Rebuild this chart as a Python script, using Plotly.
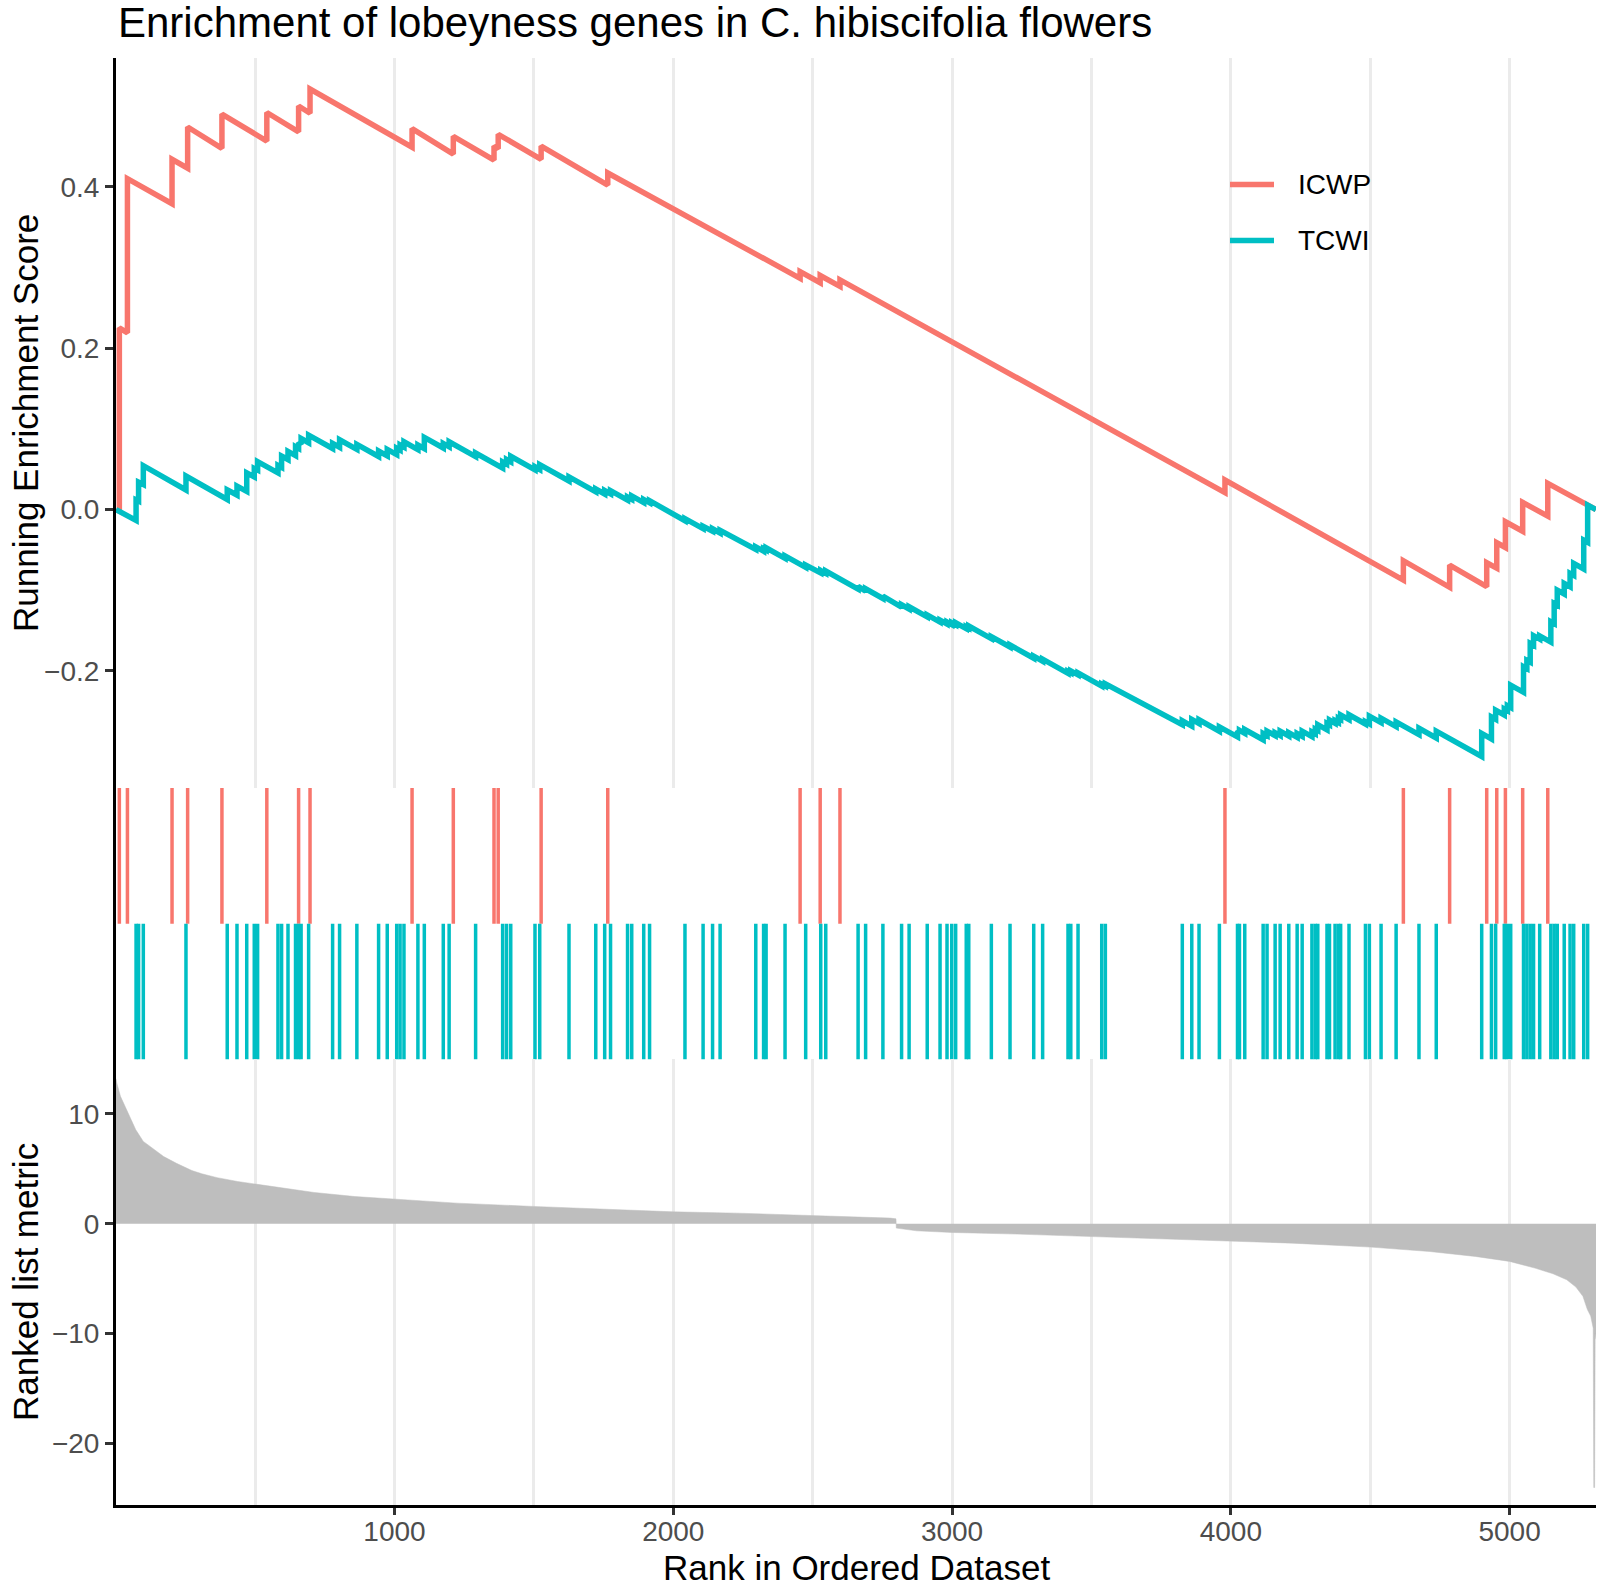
import plotly.graph_objects as go

# ---------------- data ----------------
N_GENES = 5310

red_name = "ICWP"
red_hits = [13, 42, 202, 258, 381, 542, 656, 697, 1063, 1211, 1357, 1372, 1526,
            1765, 2455, 2527, 2598, 3979, 4619, 4785, 4918, 4954, 4985, 5047, 5137]
red_es_before = [-0.002, 0.219, 0.379, 0.423, 0.4476, 0.4566, 0.468, 0.491, 0.449,
                 0.4405, 0.433, 0.447, 0.434, 0.402, 0.2865, 0.281, 0.2765, 0.021,
                 -0.0874, -0.0964, -0.0956, -0.0727, -0.047, -0.0269, -0.0082]
red_es_after = [0.225, 0.410, 0.434, 0.474, 0.490, 0.492, 0.500, 0.521, 0.472,
                0.4624, 0.4504, 0.465, 0.4504, 0.417, 0.2947, 0.290, 0.2845, 0.0366,
                -0.0634, -0.0688, -0.0659, -0.0411, -0.0151, 0.0089, 0.0324]
red_es_end = 0.0

cyan_name = "TCWI"
cyan_hits = [73, 82, 99, 252, 400, 435, 470, 497, 509, 582, 595, 618, 645, 656, 665,
             692, 778, 803, 865, 943, 974, 1008, 1020, 1034, 1084, 1107, 1175, 1196,
             1291, 1388, 1402, 1417, 1504, 1521, 1626, 1722, 1754, 1775, 1836, 1851,
             1894, 1915, 2042, 2107, 2141, 2168, 2296, 2324, 2333, 2401, 2475, 2529,
             2547, 2663, 2690, 2752, 2819, 2846, 2911, 2957, 2982, 2999, 3013, 3051,
             3060, 3141, 3208, 3293, 3325, 3416, 3426, 3452, 3537, 3550, 3826, 3860,
             3886, 3959, 4024, 4031, 4050, 4116, 4130, 4159, 4177, 4208, 4238, 4256,
             4291, 4303, 4312, 4345, 4354, 4374, 4386, 4394, 4424, 4483, 4497, 4539,
             4593, 4675, 4737, 4900, 4935, 4950, 4981, 4992, 5004, 5050, 5062, 5074,
             5086, 5108, 5148, 5160, 5171, 5196, 5217, 5230, 5266, 5280]
cyan_es_before = [-0.0135, 0.0105, 0.031, 0.0243, 0.0125, 0.018, 0.0225, 0.0405, 0.049,
                  0.0455, 0.0522, 0.062, 0.0668, 0.0757, 0.081, 0.0828, 0.0757, 0.0772,
                  0.0745, 0.0658, 0.0665, 0.068, 0.0737, 0.0773, 0.0743, 0.0755, 0.0763,
                  0.0778, 0.0657, 0.0513, 0.0563, 0.0591, 0.0492, 0.0497, 0.0354, 0.0220,
                  0.0193, 0.0194, 0.0117, 0.0126, 0.0087, 0.0084, -0.0138, -0.0237,
                  -0.0268, -0.0290, -0.0495, -0.0516, -0.0503, -0.0604, -0.0717, -0.0786,
                  -0.0791, -0.0985, -0.1010, -0.1102, -0.1210, -0.1232, -0.1330, -0.1395,
                  -0.1418, -0.1426, -0.1428, -0.1476, -0.1468, -0.1599, -0.1703, -0.1842,
                  -0.1879, -0.2030, -0.2024, -0.2049, -0.2188, -0.2188, -0.2665, -0.2683,
                  -0.2651, -0.2747, -0.2817, -0.2759, -0.2772, -0.2852, -0.2801, -0.2801,
                  -0.2800, -0.2805, -0.2823, -0.2810, -0.2813, -0.2778, -0.2737, -0.2729,
                  -0.2667, -0.2647, -0.2638, -0.2600, -0.2603, -0.2657, -0.2655, -0.2640,
                  -0.2689, -0.2788, -0.2830, -0.3060, -0.2842, -0.2598, -0.2545, -0.2491,
                  -0.2453, -0.2264, -0.1971, -0.1891, -0.1681, -0.1605, -0.1642, -0.1413,
                  -0.1184, -0.1046, -0.0956, -0.0816, -0.0736, -0.0405]
cyan_es_after = [0.012, 0.034, 0.0543, 0.0415, 0.0245, 0.029, 0.0455, 0.051, 0.0593,
                 0.0547, 0.0663, 0.072, 0.0778, 0.0828, 0.088, 0.0923, 0.082, 0.0865,
                 0.0808, 0.0725, 0.0745, 0.076, 0.080, 0.084, 0.080, 0.0894, 0.0819,
                 0.084, 0.0700, 0.059, 0.062, 0.066, 0.053, 0.0557, 0.0405, 0.0255,
                 0.0235, 0.0235, 0.0155, 0.017, 0.0125, 0.011, -0.0112, -0.0207,
                 -0.0238, -0.0258, -0.0462, -0.0486, -0.0473, -0.0574, -0.0688, -0.0756,
                 -0.0761, -0.0952, -0.0982, -0.1073, -0.1180, -0.1204, -0.1306, -0.1370,
                 -0.1393, -0.1401, -0.1403, -0.1451, -0.1443, -0.1574, -0.1678, -0.1817,
                 -0.1854, -0.2005, -0.1999, -0.2024, -0.2163, -0.2160, -0.2617, -0.2600,
                 -0.2605, -0.2692, -0.2745, -0.2735, -0.2725, -0.2774, -0.2745, -0.2765,
                 -0.2745, -0.2765, -0.2775, -0.2745, -0.2755, -0.2720, -0.2665, -0.2650,
                 -0.2608, -0.2615, -0.2585, -0.2545, -0.2543, -0.2628, -0.2559, -0.2585,
                 -0.2630, -0.2710, -0.2745, -0.2774, -0.2569, -0.2485, -0.2470, -0.2430,
                 -0.2175, -0.1948, -0.1868, -0.1658, -0.1563, -0.1565, -0.1390, -0.1163,
                 -0.0998, -0.0915, -0.0791, -0.0667, -0.0378, 0.0056]
cyan_es_end = 0.0

metric_rank = [1, 4, 17, 31, 50, 72, 99, 127, 172, 218, 273, 309, 364, 437, 492, 584,
               712, 858, 999, 1224, 1498, 1772, 1999, 2229, 2498, 2778, 2799, 2800, 2873,
               3000, 3235, 3499, 3727, 4000, 4220, 4501, 4713, 4877, 5000, 5091, 5156,
               5205, 5238, 5263, 5279, 5291, 5300, 5302, 5305, 5307, 5310]
metric_value = [13.2, 12.8, 11.6, 10.8, 9.75, 8.55, 7.5, 6.97, 6.12, 5.5, 4.85, 4.55,
                4.2, 3.85, 3.64, 3.3, 2.85, 2.48, 2.24, 1.88, 1.58, 1.33, 1.09, 0.97,
                0.76, 0.52, 0.45, -0.39, -0.64, -0.79, -0.94, -1.15, -1.3, -1.52, -1.76,
                -2.12, -2.52, -2.97, -3.42, -4.03, -4.55, -5.09, -5.76, -6.6, -7.8, -8.4,
                -9.5, -24.0, -24.0, -10.0, -10.5]

x_tick_values = [1000, 2000, 3000, 4000, 5000]
x_tick_labels = ["1000", "2000", "3000", "4000", "5000"]
es_tick_values = [-0.2, 0.0, 0.2, 0.4]
es_tick_labels = ["\u22120.2", "0.0", "0.2", "0.4"]
metric_tick_values = [-20, -10, 0, 10]
metric_tick_labels = ["\u221220", "\u221210", "0", "10"]

title_text = "Enrichment of lobeyness genes in C. hibiscifolia flowers"
es_axis_title = "Running Enrichment Score"
metric_axis_title = "Ranked list metric"
x_axis_title = "Rank in Ordered Dataset"

RED = "#F8766D"
CYAN = "#00BFC4"
GREY_FILL = "#BEBEBE"
GRID = "#EBEBEB"
FONT = "Liberation Sans, Arial, Helvetica, sans-serif"

W, H = 1598, 1587
M_L, M_R, M_T, M_B = 116, 2, 58, 82
PLOT_W = W - M_L - M_R
PLOT_H = H - M_T - M_B


def px_x(px):
    """absolute pixel (from left) -> paper x"""
    return (px - M_L) / PLOT_W


def px_y(py):
    """absolute pixel (from top) -> paper y"""
    return (H - M_B - py) / PLOT_H


def es_path(hits, before, after, end_value):
    xs, ys = [1], [0.0]
    for h, b, a in zip(hits, before, after):
        xs += [h, h]
        ys += [b, a]
    xs.append(N_GENES)
    ys.append(end_value)
    return xs, ys


def rug_path(hits, lo, hi):
    xs, ys = [], []
    for h in hits:
        xs += [h, h, None]
        ys += [lo, hi, None]
    return xs, ys


fig = go.Figure()

rx, ry = es_path(red_hits, red_es_before, red_es_after, red_es_end)
cx, cy = es_path(cyan_hits, cyan_es_before, cyan_es_after, cyan_es_end)
fig.add_trace(go.Scatter(x=rx, y=ry, mode="lines", name=red_name,
                         line=dict(color=RED, width=5.5), xaxis="x", yaxis="y",
                         showlegend=False))
fig.add_trace(go.Scatter(x=cx, y=cy, mode="lines", name=cyan_name,
                         line=dict(color=CYAN, width=5.5), xaxis="x", yaxis="y",
                         showlegend=False))

# rug of hits
gx, gy = rug_path(red_hits, 1, 2)
fig.add_trace(go.Scatter(x=gx, y=gy, mode="lines", line=dict(color=RED, width=3.5),
                         xaxis="x2", yaxis="y2", showlegend=False, hoverinfo="skip"))
gx, gy = rug_path(cyan_hits, 0, 1)
fig.add_trace(go.Scatter(x=gx, y=gy, mode="lines", line=dict(color=CYAN, width=3.5),
                         xaxis="x2", yaxis="y2", showlegend=False, hoverinfo="skip"))

# ranked list metric
fig.add_trace(go.Scatter(x=metric_rank, y=metric_value, mode="lines", fill="tozeroy",
                         fillcolor=GREY_FILL, line=dict(color=GREY_FILL, width=0.5),
                         xaxis="x3", yaxis="y3", showlegend=False))

X_RANGE = [1, N_GENES]
TOP_DOM = [px_y(788), 1.0]
RUG_DOM = [px_y(1059.4), px_y(788)]
BOT_DOM = [0.0, px_y(1059.4)]

grid_common = dict(showgrid=True, gridcolor=GRID, gridwidth=3, tick0=0, dtick=1000,
                   minor=dict(dtick=500, showgrid=True, gridcolor=GRID, gridwidth=3))

axis_font = dict(size=28, color="#4D4D4D", family=FONT)

# hand-placed legend (keys + labels) inside the top panel
legend_items = [(red_name, RED, 184.5), (cyan_name, CYAN, 240.5)]
shapes = []
annotations = []
for name, col, ypx in legend_items:
    shapes.append(dict(type="line", xref="paper", yref="paper",
                       x0=px_x(1230), x1=px_x(1274), y0=px_y(ypx), y1=px_y(ypx),
                       line=dict(color=col, width=5.5)))
    annotations.append(dict(text=name, xref="paper", yref="paper", x=px_x(1296),
                            y=px_y(ypx), xanchor="left", yanchor="middle",
                            showarrow=False,
                            font=dict(size=28, color="black", family=FONT)))

annotations += [
    dict(text=title_text, xref="paper", yref="paper", x=px_x(116), y=px_y(23),
         xanchor="left", yanchor="middle", showarrow=False,
         font=dict(size=42, color="black", family=FONT)),
    dict(text=es_axis_title, xref="paper", yref="paper", x=px_x(25),
         y=px_y(423), xanchor="center", yanchor="middle", textangle=-90,
         showarrow=False, font=dict(size=35, color="black", family=FONT)),
    dict(text=metric_axis_title, xref="paper", yref="paper", x=px_x(25),
         y=px_y(1282), xanchor="center", yanchor="middle", textangle=-90,
         showarrow=False, font=dict(size=35, color="black", family=FONT)),
    dict(text=x_axis_title, xref="paper", yref="paper", x=0.5, y=px_y(1567),
         xanchor="center", yanchor="middle", showarrow=False,
         font=dict(size=35, color="black", family=FONT)),
]

fig.update_layout(
    width=W, height=H,
    margin=dict(l=M_L, r=M_R, t=M_T, b=M_B, autoexpand=False),
    paper_bgcolor="white", plot_bgcolor="white",
    font=dict(family=FONT, color="black"),
    showlegend=False,
    xaxis=dict(domain=[0, 1], anchor="y", range=X_RANGE, showticklabels=False,
               ticks="", showline=False, zeroline=False, **grid_common),
    yaxis=dict(domain=TOP_DOM, anchor="x", range=[-0.345, 0.5595],
               tickvals=es_tick_values, ticktext=es_tick_labels, ticks="outside",
               ticklen=8, tickwidth=3, tickcolor="#333333", tickfont=axis_font,
               showline=True, linecolor="black", linewidth=3, showgrid=False,
               zeroline=False),
    xaxis2=dict(domain=[0, 1], anchor="y2", range=X_RANGE, matches="x",
                showticklabels=False, ticks="", showline=False, showgrid=False,
                zeroline=False),
    yaxis2=dict(domain=RUG_DOM, anchor="x2", range=[0, 2], showticklabels=False,
                ticks="", showline=True, linecolor="black", linewidth=3,
                showgrid=False, zeroline=False),
    xaxis3=dict(domain=[0, 1], anchor="y3", range=X_RANGE, matches="x",
                tickvals=x_tick_values, ticktext=x_tick_labels, ticks="outside",
                ticklen=7, tickwidth=3, tickcolor="#333333", tickfont=axis_font,
                ticklabelstandoff=-8,
                showline=True, linecolor="black", linewidth=3, zeroline=False,
                **grid_common),
    yaxis3=dict(domain=BOT_DOM, anchor="x3", range=[-25.59, 14.96],
                tickvals=metric_tick_values, ticktext=metric_tick_labels,
                ticks="outside", ticklen=8, tickwidth=3, tickcolor="#333333",
                tickfont=axis_font, showline=True, linecolor="black", linewidth=3,
                showgrid=False, zeroline=False),
    shapes=shapes,
    annotations=annotations,
)

fig.write_html(
    "out.html",
    config={"displayModeBar": False},
    post_script="document.body.style.margin='0px';document.body.style.overflow='hidden';",
)
